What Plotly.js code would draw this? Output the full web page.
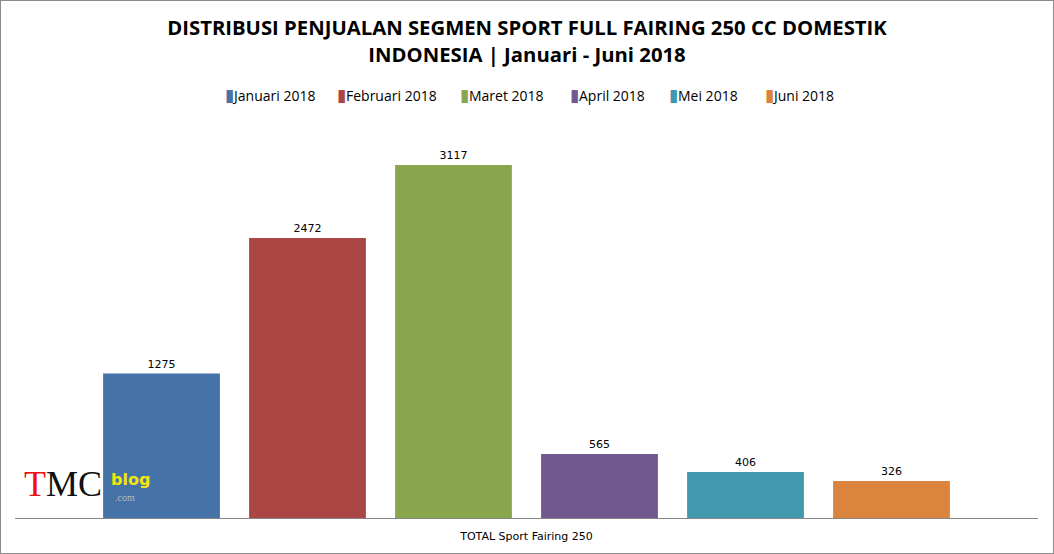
<!DOCTYPE html>
<html>
<head>
<meta charset="utf-8">
<script src="https://cdn.plot.ly/plotly-3.0.1.min.js"></script>
<style>
  body { margin: 0; background: #fff; }
  #graph { width: 1052px; height: 552px; border: 1px solid #8c8c8c; }
</style>
</head>
<body>
<div id="graph"></div>
<script>
// chart data
const category = ['TOTAL Sport Fairing 250'];
const seriesNames = ['Januari 2018', 'Februari 2018', 'Maret 2018', 'April 2018', 'Mei 2018', 'Juni 2018'];
const seriesValues = [1275, 2472, 3117, 565, 406, 326];
const seriesColors = ['#4572A7', '#AA4643', '#89A54E', '#71588F', '#4198AF', '#DB843D'];

// left edge of each legend entry, in picture pixels
const legendLeft = [223, 335, 458, 568, 667, 763];

document.addEventListener('DOMContentLoaded', function(event)
{
  displayPlot("graph");
});

// pixel position (in the 1054x554 picture) to paper fraction
function px(x) { return (x - 15) / 1023; }
function py(y) { return (518 - y) / 388; }

function displayPlot(divPlot)
{
  let plotData = [];
  for (let i = 0; i < seriesNames.length; i++)
  {
    plotData.push({
      name: seriesNames[i],
      x: category,
      y: [seriesValues[i]],
      type: 'bar',
      marker: { color: seriesColors[i] },
      text: [String(seriesValues[i])],
      textposition: 'outside',
      textfont: { family: 'DejaVu Sans', size: 11, color: '#000' },
      cliponaxis: false,
      hoverinfo: 'name+y'
    });
  }

  // legend drawn as a row of annotations, so the small swatch sits tight on the text
  let annotations = [];
  for (let i = 0; i < seriesNames.length; i++)
  {
    annotations.push({
      text: '<span style="color:' + seriesColors[i] + ';font-size:17px">\u25AE</span>' + seriesNames[i],
      xref: 'paper', yref: 'paper',
      x: px(legendLeft[i]), y: py(94),
      xanchor: 'left', yanchor: 'middle',
      showarrow: false,
      font: { family: 'Open Sans', size: 14, color: '#000' }
    });
  }

  // watermark
  annotations.push(
    { text: '<span style="color:#ee1111">T</span>MC', xref: 'paper', yref: 'paper', x: px(23), y: py(484),
      xanchor: 'left', yanchor: 'middle', showarrow: false, borderpad: 0,
      font: { family: 'Liberation Serif', size: 36, color: '#111' } },
    { text: '<b>blog</b>', xref: 'paper', yref: 'paper', x: px(110), y: py(479), xanchor: 'left', yanchor: 'middle',
      showarrow: false, borderpad: 0, font: { family: 'DejaVu Sans', size: 16, color: '#f5e60a' } },
    { text: '.com', xref: 'paper', yref: 'paper', x: px(114), y: py(497), xanchor: 'left', yanchor: 'middle',
      showarrow: false, borderpad: 0, font: { family: 'Liberation Serif', size: 10, color: '#bbb' } }
  );

  let layout =
  {
    width: 1052,
    height: 552,
    margin: { l: 14, r: 15, t: 129, b: 35 },
    paper_bgcolor: '#fff',
    plot_bgcolor: '#fff',
    barmode: 'group',
    bargap: 0.1437,
    bargroupgap: 0.2,
    showlegend: false,
    title:
    {
      text: '<b>DISTRIBUSI PENJUALAN SEGMEN SPORT FULL FAIRING 250 CC DOMESTIK<br>INDONESIA | Januari - Juni 2018</b>',
      font: { family: 'Open Sans, sans-serif', size: 20.3, color: '#000' },
      x: 0.5,
      xanchor: 'center',
      y: 0.938,
      yref: 'container',
      yanchor: 'middle'
    },
    xaxis:
    {
      showline: true,
      linecolor: '#868686',
      linewidth: 1,
      ticks: '',
      ticklabelstandoff: 8,
      tickfont: { family: 'DejaVu Sans', size: 11, color: '#000' },
      fixedrange: true
    },
    yaxis:
    {
      range: [0, 3426],
      autorange: false,
      visible: false,
      fixedrange: true
    },
    annotations: annotations
  };

  Plotly.newPlot(divPlot, plotData, layout, { displayModeBar: false, staticPlot: true });
}
</script>
</body>
</html>
